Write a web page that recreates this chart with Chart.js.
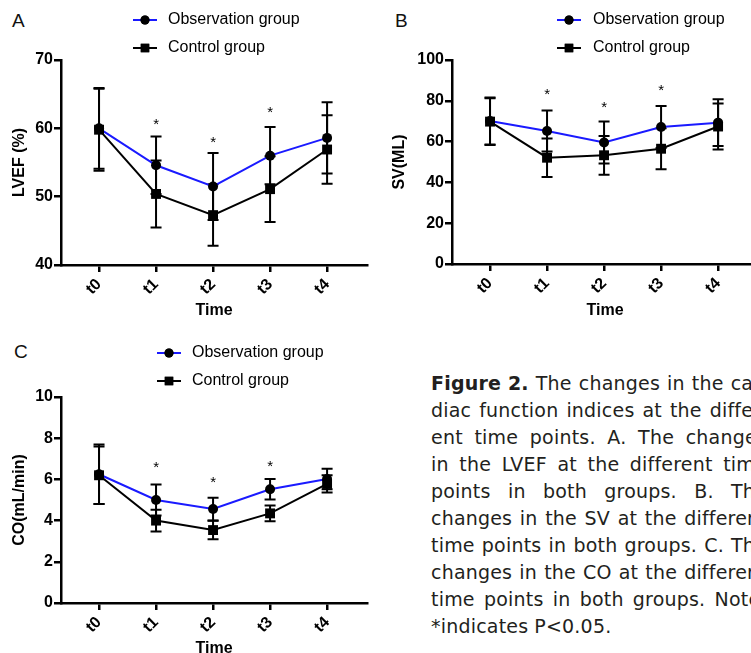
<!DOCTYPE html>
<html>
<head>
<meta charset="utf-8">
<script src="https://cdn.jsdelivr.net/npm/chart.js@4.4.1/dist/chart.umd.min.js"></script>
<style>
  html, body { margin: 0; padding: 0; background: #fff; }
  body { width: 751px; height: 653px; overflow: hidden; position: relative; font-family: "Liberation Sans", Arial, sans-serif; }
  .panel { position: absolute; }
  .letter { position: absolute; font-size: 19px; line-height: 20px; color: #111; }
  #caption { position: absolute; left: 431px; top: 370px; width: 336px; font-family: "DejaVu Sans", sans-serif; font-size: 19px; line-height: 27px; letter-spacing: 0.2px; color: #231f20; }
  #caption .line { display: flex; justify-content: space-between; white-space: nowrap; height: 27px; }
  #caption .line.last { justify-content: flex-start; }
  #caption .line.last span { margin-right: 6px; }
</style>
</head>
<body>
<div class="letter" style="left:12px;top:11px;">A</div>
<div class="letter" style="left:395px;top:11px;">B</div>
<div class="letter" style="left:14px;top:342px;">C</div>

<div class="panel" style="left:0;top:0;"><canvas id="chartA" width="380" height="330"></canvas></div>
<div class="panel" style="left:380px;top:0;"><canvas id="chartB" width="391" height="330"></canvas></div>
<div class="panel" style="left:0;top:330px;"><canvas id="chartC" width="380" height="338"></canvas></div>

<div id="caption"></div>

<script>
// time points and groups
const timePoints = ['t0', 't1', 't2', 't3', 't4'];
const groupNames = ['Observation group', 'Control group'];

// A. LVEF (%)
const lvefObs = [60.0, 54.6, 51.5, 56.0, 58.6];
const lvefObsSd = [5.9, 4.2, 4.9, 4.2, 5.2];
const lvefCtrl = [59.8, 50.4, 47.3, 51.1, 56.9];
const lvefCtrlSd = [6.0, 4.9, 4.5, 4.8, 5.0];
const lvefStars = [null, 61.1, 58.4, 62.9, null];

// B. SV (ML)
const svObs = [70.1, 65.2, 59.6, 67.2, 69.3];
const svObsSd = [11.5, 10.1, 10.3, 10.3, 11.4];
const svCtrl = [69.8, 52.1, 53.3, 56.5, 67.4];
const svCtrlSd = [11.5, 9.4, 9.5, 10.1, 11.3];
const svStars = [null, 84.8, 78.2, 86.8, null];

// C. CO (mL/min)
const coObs = [6.25, 5.0, 4.56, 5.52, 6.02];
const coObsSd = [1.45, 0.75, 0.55, 0.5, 0.5];
const coCtrl = [6.2, 4.0, 3.54, 4.35, 5.78];
const coCtrlSd = [1.4, 0.53, 0.45, 0.38, 0.42];
const coStars = [null, 6.73, 6.02, 6.78, null];

const captionLines = [
  ['Figure 2.', 'The changes in the car-'],
  ['', 'diac function indices at the differ-'],
  ['', 'ent time points. A. The changes'],
  ['', 'in the LVEF at the different time'],
  ['', 'points in both groups. B. The'],
  ['', 'changes in the SV at the different'],
  ['', 'time points in both groups. C. The'],
  ['', 'changes in the CO at the different'],
  ['', 'time points in both groups. Note:'],
  ['', '*indicates P<0.05.']
];

const FONT = '"Liberation Sans", Arial, sans-serif';
Chart.defaults.font.family = FONT;
Chart.defaults.color = '#000';

// error bars and significance stars, drawn under the lines/markers
const errorBars = {
  id: 'errorBars',
  beforeDatasetsDraw(chart) {
    const ctx = chart.ctx;
    const xs = chart.scales.x, ys = chart.scales.y;
    ctx.save();
    ctx.strokeStyle = '#000';
    ctx.lineWidth = 2;
    chart.data.datasets.forEach(ds => {
      ds.data.forEach((p, i) => {
        const px = xs.getPixelForValue(p.x);
        const top = ys.getPixelForValue(p.y + ds.sd[i]);
        const bot = ys.getPixelForValue(p.y - ds.sd[i]);
        ctx.beginPath();
        ctx.moveTo(px, top); ctx.lineTo(px, bot);
        ctx.moveTo(px - 5.5, top); ctx.lineTo(px + 5.5, top);
        ctx.moveTo(px - 5.5, bot); ctx.lineTo(px + 5.5, bot);
        ctx.stroke();
      });
    });
    const stars = chart.config.options.plugins.errorBars.stars;
    ctx.fillStyle = '#000';
    ctx.font = '15px ' + FONT;
    ctx.textAlign = 'center';
    ctx.textBaseline = 'alphabetic';
    stars.forEach((s, i) => {
      if (s === null) return;
      ctx.fillText('*', xs.getPixelForValue(i), ys.getPixelForValue(s) + 8);
    });
    ctx.restore();
  }
};

// legend: line + marker + label, GraphPad style
const groupLegend = {
  id: 'groupLegend',
  afterDraw(chart, args, opts) {
    const ctx = chart.ctx;
    ctx.save();
    ctx.font = '16px ' + FONT;
    ctx.textBaseline = 'middle';
    ctx.textAlign = 'left';
    const order = [1, 0];
    order.forEach((dsIndex, row) => {
      const ds = chart.data.datasets[dsIndex];
      const y = opts.rows[row];
      ctx.strokeStyle = ds.borderColor;
      ctx.lineWidth = 2;
      ctx.beginPath();
      ctx.moveTo(opts.x, y); ctx.lineTo(opts.x + 24, y);
      ctx.stroke();
      Chart.helpers.drawPoint(ctx, {
        pointStyle: ds.pointStyle, radius: ds.pointStyle === 'rect' ? 6 : 4.5,
        borderWidth: 0, rotation: 0
      }, opts.x + 12, y);
      ctx.fillStyle = '#000';
      ctx.fill();
      ctx.fillText(groupNames[row], opts.textX, y);
    });
    ctx.restore();
  }
};

function makeChart(id, cfg) {
  const axisFont = { size: 16, weight: 'bold', family: FONT };
  new Chart(document.getElementById(id), {
    type: 'line',
    data: {
      datasets: [
        {
          label: groupNames[1],
          data: cfg.ctrl.map((v, i) => ({ x: i, y: v })),
          sd: cfg.ctrlSd,
          borderColor: '#000', backgroundColor: '#000',
          pointStyle: 'rect', pointRadius: 7, pointBorderWidth: 0,
          borderWidth: 2, tension: 0, order: 0
        },
        {
          label: groupNames[0],
          data: cfg.obs.map((v, i) => ({ x: i, y: v })),
          sd: cfg.obsSd,
          borderColor: '#1a1aff', backgroundColor: '#000',
          pointBackgroundColor: '#000',
          pointStyle: 'circle', pointRadius: 5, pointBorderWidth: 0,
          borderWidth: 2, tension: 0, order: 1
        }
      ]
    },
    options: {
      responsive: false,
      animation: false,
      events: [],
      layout: { padding: { left: 0, top: cfg.top, right: cfg.right, bottom: 0 } },
      plugins: {
        legend: { display: false },
        tooltip: { enabled: false },
        errorBars: { stars: cfg.stars },
        groupLegend: cfg.legend
      },
      scales: {
        x: {
          type: 'linear',
          min: -0.667, max: 4.7,
          afterBuildTicks: s => { s.ticks = timePoints.map((_, i) => ({ value: i })); },
          afterFit: s => { s.height = cfg.xh; },
          border: { color: '#000', width: 2.5 },
          grid: { drawOnChartArea: false, drawTicks: true, tickLength: 7, color: '#000', lineWidth: 2.5 },
          ticks: {
            callback: v => timePoints[v],
            minRotation: 45, maxRotation: 45, padding: 3,
            color: '#000', font: axisFont
          },
          title: { display: true, text: 'Time', color: '#000', font: axisFont, padding: { top: 0, bottom: 10 } }
        },
        y: {
          min: cfg.yMin, max: cfg.yMax,
          afterFit: s => { s.width = cfg.yw; },
          border: { color: '#000', width: 2.5 },
          grid: { drawOnChartArea: false, drawTicks: true, tickLength: 7, color: '#000', lineWidth: 2.5 },
          ticks: { stepSize: cfg.step, padding: 1, color: '#000', font: axisFont },
          title: { display: true, text: cfg.yTitle, color: '#000', font: axisFont, padding: { top: 10, bottom: 0 } }
        }
      }
    },
    plugins: [errorBars, groupLegend]
  });
}

makeChart('chartA', {
  obs: lvefObs, obsSd: lvefObsSd, ctrl: lvefCtrl, ctrlSd: lvefCtrlSd, stars: lvefStars,
  yMin: 40, yMax: 70, step: 10, yTitle: 'LVEF (%)',
  top: 60, right: 13, yw: 61, xh: 65,
  legend: { x: 133, textX: 168, rows: [20, 48] }
});

makeChart('chartB', {
  obs: svObs, obsSd: svObsSd, ctrl: svCtrl, ctrlSd: svCtrlSd, stars: svStars,
  yMin: 0, yMax: 100, step: 20, yTitle: 'SV(ML)',
  top: 60, right: 13, yw: 72, xh: 66,
  legend: { x: 177, textX: 213, rows: [20, 48] }
});

makeChart('chartC', {
  obs: coObs, obsSd: coObsSd, ctrl: coCtrl, ctrlSd: coCtrlSd, stars: coStars,
  yMin: 0, yMax: 10, step: 2, yTitle: 'CO(mL/min)',
  top: 67, right: 13, yw: 61, xh: 65,
  legend: { x: 157, textX: 192, rows: [23, 51] }
});

// caption, each printed line justified across the column
const cap = document.getElementById('caption');
captionLines.forEach((ln, idx) => {
  const div = document.createElement('div');
  div.className = 'line' + (idx === captionLines.length - 1 ? ' last' : '');
  if (ln[0]) {
    const b = document.createElement('span');
    b.style.fontWeight = 'bold';
    b.textContent = ln[0];
    div.appendChild(b);
  }
  ln[1].split(' ').forEach(w => {
    const s = document.createElement('span');
    s.textContent = w;
    div.appendChild(s);
  });
  cap.appendChild(div);
});
</script>
</body>
</html>
